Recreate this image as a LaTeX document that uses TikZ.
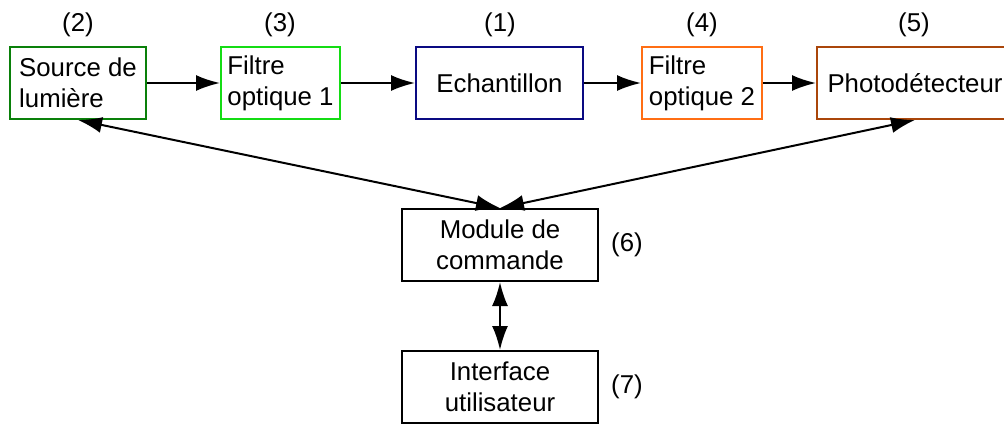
\documentclass[tikz,border=0pt]{standalone}
\usepackage{fontspec}
\setmainfont{Liberation Sans}
\usepackage{tikz}
\usetikzlibrary{arrows.meta}
\definecolor{srcgreen}{RGB}{10,128,10}
\definecolor{filtgreen}{RGB}{20,220,20}
\definecolor{echblue}{RGB}{10,10,130}
\definecolor{filtorange}{RGB}{255,110,20}
\definecolor{pdbrown}{RGB}{170,70,10}

\begin{document}
\begin{tikzpicture}[x=1pt, y=-1pt,
	box/.style={draw, line width=2pt, minimum height=72pt, inner sep=0pt, align=left, font=\fontsize{25.8}{31}\selectfont},
	num/.style={font=\fontsize{25.8}{31}\selectfont},
	arr/.style={line width=2pt, -{Latex[length=24pt, width=16pt]}},
	darr/.style={line width=2pt, {Latex[length=24pt, width=16pt]}-{Latex[length=24pt, width=16pt]}}]
	\useasboundingbox (0,0) rectangle (1004,424);
	% top row
	\node[box, draw=srcgreen, minimum width=136pt] (src) at (78,83) {Source de\\lumière};
	\node[box, draw=filtgreen, minimum width=119pt] (filtA) at (280.5,83) {Filtre\\optique 1};
	\node[box, draw=echblue, minimum width=167pt, align=center] (ech) at (499.5,83) {Echantillon};
	\node[box, draw=filtorange, minimum width=120pt] (filtB) at (702,83) {Filtre\\optique 2};
	\node[box, draw=pdbrown, minimum width=196pt] (pd) at (915,83) {Photodétecteur};
	% control and interface
	\node[box, draw=black, minimum width=196pt, align=center] (mod) at (500,245) {Module de\\commande};
	\node[box, draw=black, minimum width=196pt, align=center] (ui) at (500,387) {Interface\\utilisateur};
	% numbers
	\node[num] (n2) at (78,25) {(2)};
	\node[num] (n3) at (280,25) {(3)};
	\node[num] (n1) at (500,25) {(1)};
	\node[num] (n4) at (702,25) {(4)};
	\node[num] (n5) at (914,25) {(5)};
	\node[num] (n6) at (627,245) {(6)};
	\node[num] (n7) at (627,387) {(7)};
	% connectors
	\draw[arr] (src) -- (filtA);
	\draw[arr] (filtA) -- (ech);
	\draw[arr] (ech) -- (filtB);
	\draw[arr] (filtB) -- (pd);
	\draw[darr] (src.south) -- (mod.north);
	\draw[darr] (pd.south) -- (mod.north);
	\draw[darr] (mod) -- (ui);
\end{tikzpicture}
\end{document}
